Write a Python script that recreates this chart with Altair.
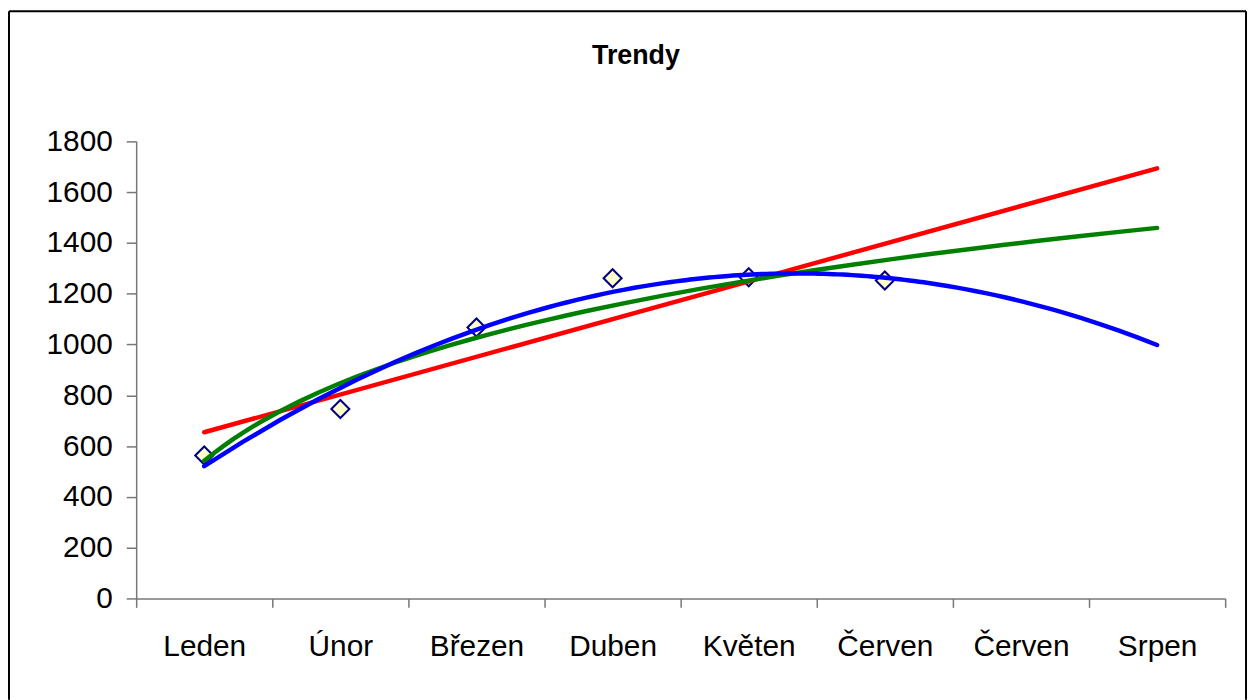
import altair as alt
import pandas as pd

# ---- data ----
months = ["Leden", "Únor", "Březen", "Duben", "Květen", "Červen", "Červen", "Srpen"]
month_index = [1, 2, 3, 4, 5, 6]
values = [563, 746, 1067, 1261, 1265, 1252]
y_ticks = [0, 200, 400, 600, 800, 1000, 1200, 1400, 1600, 1800]
trend_methods = ["linear", "log", "poly"]
trend_colors = ["#FF0000", "#008000", "#0000FF"]

df = pd.DataFrame({"x": month_index, "y": values})

FONT = "Liberation Sans"
W, H = 1096, 460
n_cat = len(months)

label_js = "[" + ",".join("'" + m + "'" for m in months) + "]"
boundaries = [i + 0.5 for i in range(n_cat + 1)]

xscale = alt.Scale(domain=[0.5, n_cat + 0.5], nice=False, zero=False)
yscale = alt.Scale(domain=[0, 1800], nice=False)

xaxis = alt.Axis(
    title=None, values=boundaries, grid=False,
    labelExpr=label_js + "[floor(datum.value)] || ''",
    labelOffset=W / n_cat / 2, labelAlign="center", labelOverlap=False,
    labelFlush=False, labelBound=False,
    labelFontSize=30, labelFont=FONT, labelColor="black", labelPadding=24,
    tickSize=9, tickColor="#777777", tickWidth=1.5,
    domainColor="#777777", domainWidth=1.5,
)
yaxis = alt.Axis(
    title=None, values=y_ticks, grid=False, format="d",
    labelFontSize=30, labelFont=FONT, labelColor="black", labelPadding=14,
    tickSize=10, tickColor="#777777", tickWidth=1.5,
    domainColor="#777777", domainWidth=1.5, labelOverlap=False,
)

base = alt.Chart(df)

points = base.mark_point(
    shape="diamond", filled=True, fill="#FFFFCC", stroke="#000080",
    strokeWidth=2, size=330, opacity=1,
).encode(
    x=alt.X("x:Q", scale=xscale, axis=xaxis),
    y=alt.Y("y:Q", scale=yscale, axis=yaxis),
)

layers = [points]
for method, color in zip(trend_methods, trend_colors):
    kw = {"method": method, "extent": [1, n_cat]}
    if method == "poly":
        kw["order"] = 2
    layers.append(
        base.transform_regression("x", "y", **kw)
        .mark_line(color=color, strokeWidth=4.5, strokeCap="round")
        .encode(x=alt.X("x:Q", scale=xscale, axis=xaxis),
                y=alt.Y("y:Q", scale=yscale, axis=yaxis))
    )

# outer chart-area frame (decoration, pixel offsets relative to plot area)
one = alt.Data(values=[{}])
L, R, T, B = -128, 1117, -131, 562
frame_style = dict(color="black", strokeWidth=2)
frame = [
    alt.Chart(one).mark_rule(**frame_style).encode(x=alt.value(L), x2=alt.value(R), y=alt.value(T)),
    alt.Chart(one).mark_rule(**frame_style).encode(x=alt.value(L), y=alt.value(T), y2=alt.value(B)),
    alt.Chart(one).mark_rule(**frame_style).encode(x=alt.value(R), y=alt.value(T), y2=alt.value(B)),
]

chart = alt.layer(*frame, *layers).properties(
    width=W, height=H, background="white",
    title=alt.TitleParams(
        "Trendy", fontSize=27, fontWeight="bold", font=FONT, color="black",
        anchor="middle", dx=-45, dy=64, offset=4,
    ),
    autosize=alt.AutoSizeParams(type="none"),
    padding={"left": 129, "top": 132, "right": 24, "bottom": 100},
).configure_view(strokeWidth=0, stroke="transparent").configure_axis(grid=False)

chart.save("out.html", embed_options={"renderer": "svg", "actions": False})
